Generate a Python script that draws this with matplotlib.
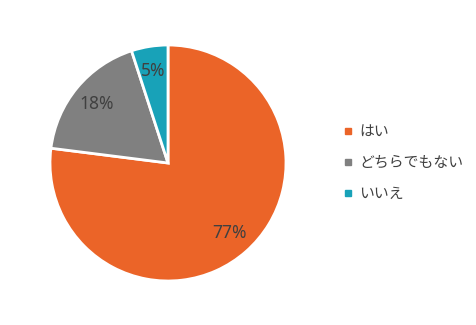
import matplotlib
matplotlib.use("Agg")
import matplotlib.pyplot as plt
from matplotlib.lines import Line2D

plt.rcParams['font.family'] = ['Noto Sans CJK JP', 'DejaVu Sans']

labels = ["はい", "どちらでもない", "いいえ"]
values = [77, 18, 5]
colors = ["#EB6428", "#808080", "#18A2B8"]

W, H = 477, 325
fig = plt.figure(figsize=(W / 100, H / 100), dpi=100, facecolor="white")
# pie centre about (168, 163) px, radius about 118 px
ax = fig.add_axes((50 / W, 44 / H, 236 / W, 236 / H))

ax.pie(values, colors=colors, startangle=90, counterclock=False,
       autopct="%d%%", pctdistance=0.79, radius=1,
       wedgeprops=dict(edgecolor="white", linewidth=2),
       textprops=dict(color="#404040", fontsize=12.5, family=["Noto Sans", "DejaVu Sans"]))
ax.set_xlim(-1, 1)
ax.set_ylim(-1, 1)
ax.set_aspect("equal")

handles = [Line2D([], [], linestyle="none", marker="s", markersize=5,
                  markerfacecolor=c, markeredgecolor=c) for c in colors]
fig.legend(handles, labels, loc="center left", bbox_to_anchor=(330 / W, 162 / H),
           frameon=False, handlelength=0.6, handletextpad=0.45,
           labelspacing=1.15, fontsize=10.7, labelcolor="#404040")

fig.savefig("out.png", dpi=100, facecolor="white")
